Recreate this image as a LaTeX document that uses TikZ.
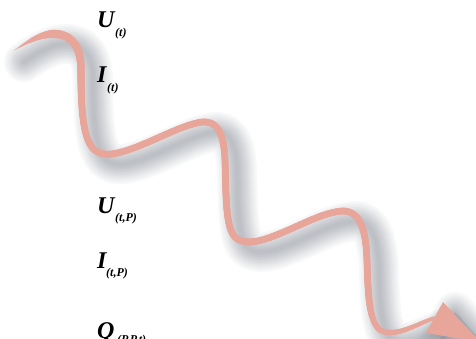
\documentclass[tikz,border=0pt]{standalone}
\usepackage{fontspec}
\newfontfamily\lblfamily{Liberation Serif}
\usetikzlibrary{decorations.markings}
\definecolor{ribbon}{RGB}{232,166,155}
\definecolor{shadowcol}{RGB}{95,102,115}
\tikzset{
  lbl/.style={inner sep=0pt, anchor=base west, font=\lblfamily\bfseries\itshape\fontsize{24}{24}\selectfont},
  sublbl/.style={inner sep=0pt, anchor=base west, font=\lblfamily\bfseries\itshape\fontsize{12}{12}\selectfont},
  shadowline/.style={draw=shadowcol, opacity=0.045, line cap=round, line join=round},
}
\def\ribbonpath{(12,52) .. controls (28,41) and (43,33) .. (56,34)
  .. controls (72,35) and (81,47) .. (81,70)
  .. controls (81,100) and (82,125) .. (88,140)
  .. controls (93,152) and (100,155) .. (112,154)
  .. controls (140,150) and (180,124) .. (203,122)
  .. controls (218,121) and (224,135) .. (225,160)
  .. controls (226,200) and (226,225) .. (234,236)
  .. controls (240,243) and (250,243) .. (262,240)
  .. controls (290,232) and (320,212) .. (343,211)
  .. controls (360,211) and (366,230) .. (367,260)
  .. controls (368,300) and (370,322) .. (380,330)
  .. controls (395,338) and (415,325) .. (434,318)}
\def\headpath{(443,302) -- (480,342) -- (426,333) -- cycle}
\begin{document}
\begin{tikzpicture}[x=1pt,y=-1pt]
\useasboundingbox (0,0) rectangle (476,338);
\clip (0,0) rectangle (476,338);
% shadow
\begin{scope}[shift={(12,10)}]
\foreach \w in {40,36,32,28,25,22,19,16,13,10,7,4}{
  \draw[shadowline, line width=\w pt] \ribbonpath;
  \filldraw[shadowline, fill=shadowcol, fill opacity=0.02, line width=\w pt] \headpath;
}
\end{scope}
% ribbon body with variable width
\path[postaction={decorate}, decoration={markings,
  mark=between positions 0 and 1 step 0.7pt with {
    \pgfmathsetmacro\ss{\pgfkeysvalueof{/pgf/decoration/mark info/distance from start}}
    \pgfmathsetmacro\rr{\ss<45 ? 4.2*\ss/45 : (\ss<130 ? 4.2-0.8*(\ss-45)/85 : (\ss>\pgfdecoratedpathlength-90 ? 3.4-1.5*(\ss-\pgfdecoratedpathlength+90)/90 : 3.4))}
    \fill[ribbon] (0,0) circle[radius=\rr pt];
  }}] \ribbonpath;
\coordinate (headbase) at (434,318);
\fill[ribbon] \headpath;
% labels
\node[lbl] (u1) at (97,27) {U};
\node[sublbl] (u1s) at (115,36) {(t)};
\node[lbl] (i1) at (97,82) {I};
\node[sublbl] (i1s) at (107,91) {(t)};
\node[lbl] (u2) at (97,213) {U};
\node[sublbl] (u2s) at (115,221) {(t,P)};
\node[lbl] (i2) at (97,268) {I};
\node[sublbl] (i2s) at (106,276) {(t,P)};
\node[lbl] (q) at (97,338) {Q};
\node[sublbl] (qs) at (117,343) {(P,P,t)};
\end{tikzpicture}
\end{document}
